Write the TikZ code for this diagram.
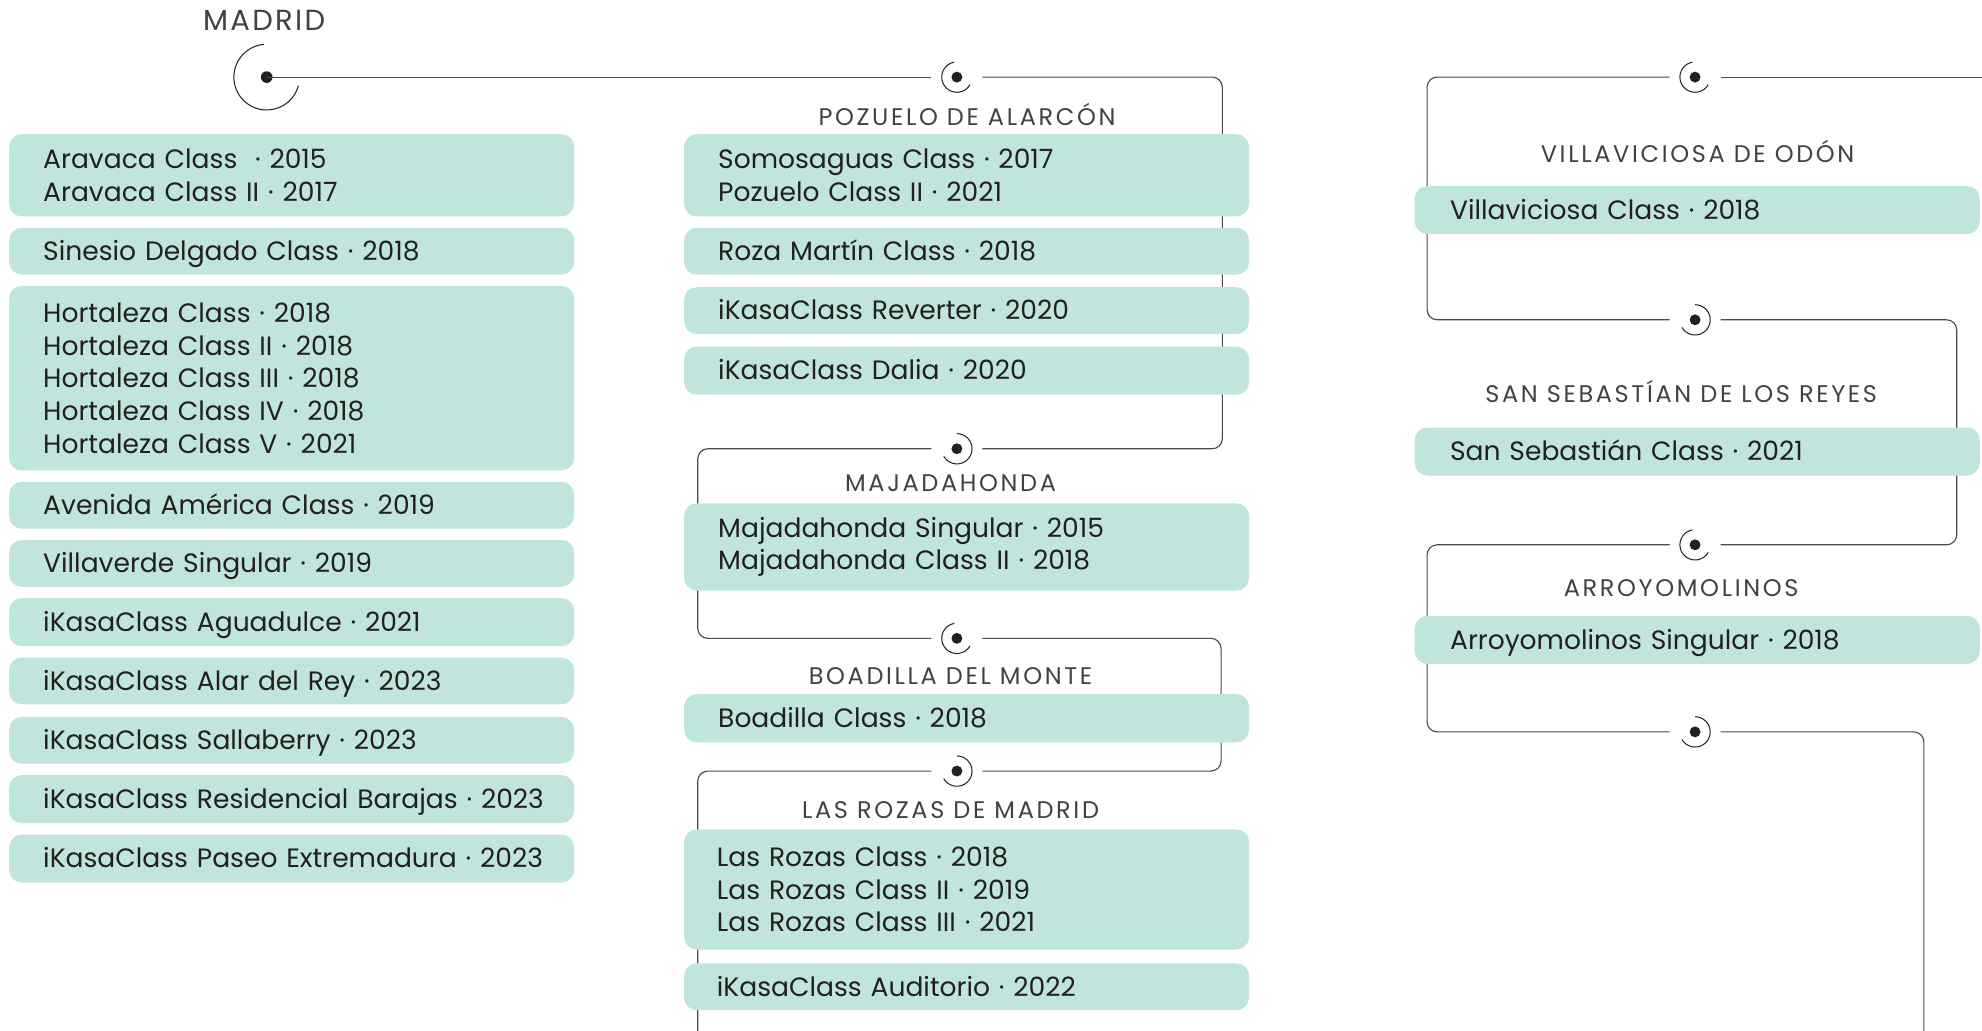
\documentclass[tikz,border=0pt]{standalone}
\usepackage{fontspec}
\setmainfont{Poppins}
\definecolor{mint}{HTML}{BFE5DC}
\definecolor{ink}{HTML}{231F20}
\definecolor{wire}{HTML}{4A4A4A}
\begin{document}
\begin{tikzpicture}[x=1pt,y=-1pt,
  itembox/.style={fill=mint, draw=none, rounded corners=10pt, anchor=north west,
    inner xsep=27pt, inner ysep=0pt, text width=393pt, align=left, text=ink,
    font=\fontsize{21}{25.9}\selectfont},
  oneline/.style={text height=14.8pt, text depth=0pt},
  citylabel/.style={text=ink!85, inner sep=0pt, text height=13.3pt, text depth=0pt,
    font=\fontsize{19}{21}\selectfont\addfontfeatures{LetterSpace=11}},
  wireline/.style={draw=wire, line width=0.9pt, rounded corners=8pt},
  hubA/.style={circle, minimum size=40pt, inner sep=0pt, draw=none,
    path picture={\fill[ink] (path picture bounding box.center) circle (4.3pt);
      \draw[ink, line width=0.8pt] ([shift={(100:12pt)}]path picture bounding box.center)
        arc[start angle=100, end angle=330, radius=12pt];}},
  hubB/.style={circle, minimum size=40pt, inner sep=0pt, draw=none,
    path picture={\fill[ink] (path picture bounding box.center) circle (4.3pt);
      \draw[ink, line width=0.8pt] ([shift={(-150:12pt)}]path picture bounding box.center)
        arc[start angle=-150, end angle=90, radius=12pt];}}
]
\useasboundingbox (0,0) rectangle (1568,815);
\clip (0,0) rectangle (1568,815);

% hubs
\node[circle, minimum size=70pt, inner sep=0pt, draw=none,
  path picture={\fill[ink] (path picture bounding box.center) circle (4.6pt);
    \draw[ink, line width=0.8pt] ([shift={(95:26pt)}]path picture bounding box.center)
      arc[start angle=95, end angle=345, radius=26pt];}] (madrid) at (211,61) {};
\node[hubA] (p1) at (757,61) {};
\node[hubB] (p2) at (757,355) {};
\node[hubA] (p3) at (757,505) {};
\node[hubB] (p4) at (757,610) {};
\node[hubA] (p5) at (1341,61) {};
\node[hubB] (p6) at (1341,253) {};
\node[hubA] (p7) at (1341,431) {};
\node[hubB] (p8) at (1341,579) {};
\coordinate (endA) at (570,845);
\coordinate (startB) at (1600,61);
\coordinate (endB) at (1522,845);

% wires
\draw[wireline] (madrid.center) -- (p1.west);
\draw[wireline] (p1.east) -- (967,61) -- (967,355) -- (p2.east);
\draw[wireline] (p2.west) -- (552,355) -- (552,505) -- (p3.west);
\draw[wireline] (p3.east) -- (966,505) -- (966,610) -- (p4.east);
\draw[wireline] (p4.west) -- (552,610) -- (552,845) -- (endA);
\draw[wireline] (startB) -- (p5.east);
\draw[wireline] (p5.west) -- (1129,61) -- (1129,253) -- (p6.west);
\draw[wireline] (p6.east) -- (1548,253) -- (1548,431) -- (p7.east);
\draw[wireline] (p7.west) -- (1129,431) -- (1129,579) -- (p8.west);
\draw[wireline] (p8.east) -- (1522,579) -- (endB);

% labels
\node[text=ink!85, inner sep=0pt, text height=16pt, text depth=0pt,
  font=\fontsize{23}{26}\selectfont\addfontfeatures{LetterSpace=8}] (lmad) at (209,16) {MADRID};
\node[citylabel] (lpoz) at (765,93) {POZUELO DE ALARCÓN};
\node[citylabel] (lmaj) at (752,382) {MAJADAHONDA};
\node[citylabel] (lboa) at (752,535) {BOADILLA DEL MONTE};
\node[citylabel] (lroz) at (752,641) {LAS ROZAS DE MADRID};
\node[citylabel] (lvil) at (1343,122) {VILLAVICIOSA DE ODÓN};
\node[citylabel] (lsan) at (1330,312) {SAN SEBASTÍAN DE LOS REYES};
\node[citylabel] (larr) at (1330,465) {ARROYOMOLINOS};

% left column
\node[itembox, minimum height=65pt] (a1) at (7,106) {Aravaca Class \ · 2015\\Aravaca Class II · 2017};
\node[itembox, oneline, minimum height=37pt] (a2) at (7,180) {Sinesio Delgado Class · 2018};
\node[itembox, minimum height=146pt] (a3) at (7,226) {Hortaleza Class · 2018\\Hortaleza Class II · 2018\\Hortaleza Class III · 2018\\Hortaleza Class IV · 2018\\Hortaleza Class V · 2021};
\node[itembox, oneline, minimum height=37pt] (a4) at (7,381) {Avenida América Class · 2019};
\node[itembox, oneline, minimum height=37pt] (a5) at (7,427) {Villaverde Singular · 2019};
\node[itembox, oneline, minimum height=38pt] (a6) at (7,473) {iKasaClass Aguadulce · 2021};
\node[itembox, oneline, minimum height=37pt] (a7) at (7,520) {iKasaClass Alar del Rey · 2023};
\node[itembox, oneline, minimum height=37pt] (a8) at (7,567) {iKasaClass Sallaberry · 2023};
\node[itembox, oneline, minimum height=38pt] (a9) at (7,613) {\mbox{iKasaClass Residencial Barajas · 2023}};
\node[itembox, oneline, minimum height=38pt] (a10) at (7,660) {\mbox{iKasaClass Paseo Extremadura · 2023}};

% middle column
\node[itembox, minimum height=65pt] (b1) at (541,106) {Somosaguas Class · 2017\\Pozuelo Class II · 2021};
\node[itembox, oneline, minimum height=37pt] (b2) at (541,180) {Roza Martín Class · 2018};
\node[itembox, oneline, minimum height=37pt] (b3) at (541,227) {iKasaClass Reverter · 2020};
\node[itembox, oneline, minimum height=38pt] (b4) at (541,274) {iKasaClass Dalia · 2020};
\node[itembox, minimum height=69pt] (b5) at (541,398) {Majadahonda Singular · 2015\\Majadahonda Class II · 2018};
\node[itembox, oneline, minimum height=38pt] (b6) at (541,549) {Boadilla Class · 2018};
\node[itembox, minimum height=95pt, inner xsep=26pt, text width=395pt] (b7) at (541,656) {Las Rozas Class · 2018\\Las Rozas Class II · 2019\\Las Rozas Class III · 2021};
\node[itembox, oneline, minimum height=37pt, inner xsep=26pt, text width=395pt] (b8) at (541,762) {iKasaClass Auditorio · 2022};

% right column
\node[itembox, oneline, minimum height=38pt, inner xsep=28pt, text width=391pt] (c1) at (1119,147) {Villaviciosa Class · 2018};
\node[itembox, oneline, minimum height=38pt, inner xsep=28pt, text width=391pt] (c2) at (1119,338) {San Sebastián Class · 2021};
\node[itembox, oneline, minimum height=38pt, inner xsep=28pt, text width=391pt] (c3) at (1119,487) {Arroyomolinos Singular · 2018};
\end{tikzpicture}
\end{document}
